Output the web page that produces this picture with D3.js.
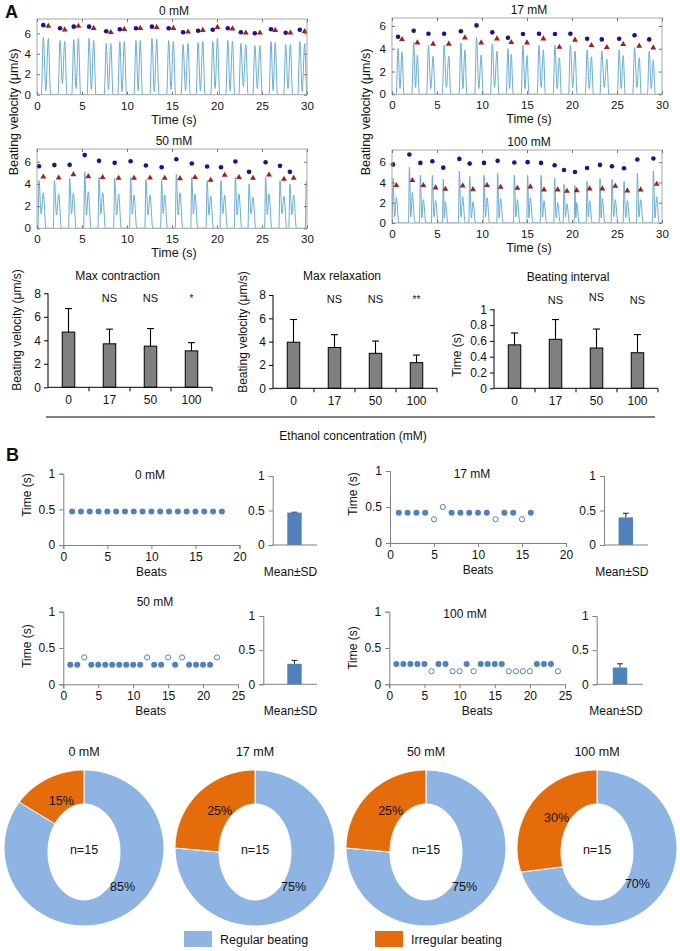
<!DOCTYPE html>
<html><head><meta charset="utf-8">
<script src="https://cdn.jsdelivr.net/npm/d3@7"></script>
<style>body{margin:0;background:#fff}text{font-family:"Liberation Sans",Arial,Helvetica,sans-serif;fill:#111}</style>
</head><body><svg id="c" width="680" height="951"></svg>
<script>
// ================= DATA =================
// Panel A traces: x ticks / y ticks
const traceXTicks = [0,5,10,15,20,25,30];
const traceYTicks = [0,2,4,6];
// 0 mM
const t0_tC = [0.7,2.56,4.08,5.79,7.69,9.2,11.0,12.77,14.63,16.23,17.9,19.53,21.2,22.65,24.2,26.0,27.63,29.2];
const t0_tR = [1.26,3.08,4.6,6.3,8.2,9.7,11.47,13.3,15.15,16.78,18.42,20.05,21.72,23.2,24.77,26.47,28.15,29.74];
const t0_mC = [6.8,6.5,6.65,6.65,6.2,6.4,6.5,6.65,6.5,6.1,6.25,6.35,6.5,6.1,6.0,6.4,6.05,6.35];
const t0_mR = [6.7,6.35,6.7,6.5,6.1,6.4,6.5,6.6,6.5,6.15,6.3,6.6,6.45,6.05,6.05,6.3,6.05,6.2];
const t0_vC = [5.6,5.3,5.4,5.5,5.0,5.2,5.3,5.5,5.3,4.9,5.1,5.2,5.3,5.0,4.8,5.2,4.9,5.2];
const t0_vR = [5.5,5.2,5.5,5.3,5.0,5.2,5.3,5.4,5.2,5.0,5.2,5.5,5.2,4.9,4.8,5.1,4.9,5.0];
const t0_dip = [0.4,1.1,0.6,0.5,0.5,0.3,0.4,0.3,0.5,0.4,0.4,0.6,0.4,0.8,0.6,0.4,0.6,0.3];
// 17 mM
const t17_tC = [0.67,2.41,4.05,5.79,7.65,9.39,11.14,12.88,14.55,16.33,18.11,19.82,21.68,23.31,25.24,26.95,28.58];
const t17_tR = [1.11,2.82,4.57,6.31,8.1,9.91,11.66,13.25,15.0,16.82,18.6,20.34,22.16,23.87,25.69,27.47,29.03];
const t17_mC = [5.06,5.58,5.32,5.32,5.53,6.05,5.44,4.97,5.29,5.32,5.29,5.32,4.88,4.82,4.88,5.18,4.82];
const t17_mR = [4.82,4.53,4.42,4.42,4.97,4.53,4.88,4.56,4.53,4.88,4.15,4.77,4.3,4.12,4.39,4.24,4.09];
const t17_vC = [4.03,4.56,4.3,4.3,4.5,5.0,4.4,4.0,4.3,4.3,4.3,4.3,3.9,3.8,3.9,4.1,3.8];
const t17_vR = [3.74,3.45,3.35,3.35,3.9,3.45,3.8,3.5,3.4,3.9,3.2,3.8,3.3,3.1,3.4,3.2,3.0];
const t17_dip = [0.5,0.6,0.5,0.6,0.5,0.5,0.6,0.5,0.5,0.6,0.5,0.6,0.5,0.6,0.5,0.6,0.5];
// 50 mM (trace has one extra spike at the end)
const t50_tC = [0.22,1.93,3.63,5.3,6.89,8.63,10.4,12.1,13.85,15.48,17.2,18.9,20.44,22.04,23.56,25.4,27.0,28.1,29.92];
const t50_tR = [0.7,2.41,4.04,5.7,7.3,9.07,10.78,12.56,14.19,15.89,17.56,19.3,20.85,22.44,24.0,25.78,27.44,28.52,30.4];
const t50_mC = [5.6,5.7,5.72,6.6,6.08,5.9,6.05,5.66,5.5,6.23,5.84,5.57,5.5,6.02,5.09,5.96,5.63,5.09];
const t50_mR = [4.64,4.55,4.85,4.67,4.6,4.52,4.52,4.55,4.52,4.49,4.6,4.34,4.79,4.6,4.52,4.82,4.43,4.52];
const t50_vC = [4.3,4.3,4.5,5.1,4.6,4.5,4.6,4.4,4.3,4.9,4.6,4.3,4.3,4.6,4.0,4.6,4.3,4.0,4.2];
const t50_vR = [3.2,3.1,3.2,3.3,3.2,3.1,3.0,3.0,3.0,3.2,3.1,2.9,3.0,3.1,2.8,3.1,2.9,3.0,3.0];
const t50_dip = [1.3,1.2,1.3,1.2,1.3,1.2,1.3,1.2,1.3,1.2,1.3,1.2,1.3,1.2,1.3,1.2,1.3,1.2,1.3];
// 100 mM
const t100_tC = [0.11,1.93,3.15,4.48,5.7,7.48,8.63,10.22,11.74,13.59,15.07,16.56,18.07,19.11,20.33,21.67,23.11,24.44,25.78,27.26,29.04];
const t100_tR = [0.48,2.26,3.48,4.85,5.93,7.85,9.0,10.56,12.07,13.93,15.37,16.89,18.41,19.44,20.52,21.96,23.37,24.81,26.15,27.63,29.41];
const t100_mC = [5.76,6.75,5.93,6.09,5.46,6.32,5.86,5.93,6.13,5.96,6.0,5.93,5.7,5.23,5.03,5.43,5.73,5.6,5.4,6.26,6.36];
const t100_mR = [3.71,4.2,3.71,3.48,3.34,3.68,3.31,3.71,3.54,3.44,3.58,3.28,3.28,3.15,3.21,3.38,3.38,3.64,3.18,3.28,3.84];
const t100_vC = [4.4,5.5,4.7,4.7,4.3,5.1,4.6,4.7,4.9,4.7,4.7,4.7,4.4,3.8,3.7,4.1,4.4,4.3,4.1,4.9,5.1];
const t100_vR = [2.5,3.0,2.3,2.2,2.1,2.6,2.1,2.5,2.4,2.3,2.5,2.2,2.0,1.9,2.0,2.2,2.4,2.3,2.2,2.3,2.6];
const t100_dip = [0.6,0.6,0.5,0.6,0.5,0.6,0.5,0.6,0.5,0.6,0.5,0.6,0.5,0.6,0.5,0.6,0.5,0.6,0.5,0.6,0.5];

// Panel A bar charts
const concCats = ["0","17","50","100"];
const contrMean = [4.7,3.7,3.5,3.1];
const contrErrTop = [6.7,4.95,5.0,3.8];
const contrSig = ["","NS","NS","*"];
const relaxMean = [3.95,3.5,3.0,2.2];
const relaxErrTop = [5.9,4.6,4.05,2.85];
const relaxSig = ["","NS","NS","**"];
const intMean = [0.55,0.62,0.51,0.45];
const intErrTop = [0.70,0.87,0.75,0.68];
const intSig = ["","NS","NS","NS"];
const velTicks = [0,2,4,6,8];
const intTicks = [0,0.2,0.4,0.6,0.8,1];

// Panel B scatter (beat intervals) ; open = irregular beat
const b0_vals = [0.47,0.47,0.47,0.47,0.47,0.47,0.47,0.47,0.47,0.47,0.47,0.47,0.47,0.47,0.47,0.47,0.47,0.47];
const b0_open = [0,0,0,0,0,0,0,0,0,0,0,0,0,0,0,0,0,0];
const b17_vals = [0.42,0.42,0.42,0.42,0.33,0.50,0.42,0.42,0.42,0.42,0.42,0.33,0.42,0.42,0.33,0.42];
const b17_open = [0,0,0,0,1,1,0,0,0,0,0,1,0,0,1,0];
const b50_vals = [0.27,0.27,0.37,0.27,0.27,0.27,0.27,0.27,0.27,0.27,0.27,0.37,0.27,0.27,0.37,0.27,0.37,0.27,0.27,0.27,0.27,0.37];
const b50_open = [0,0,1,0,0,0,0,0,0,0,0,1,0,0,1,0,1,0,0,0,0,1];
const b100_vals = [0.28,0.28,0.28,0.28,0.28,0.18,0.28,0.28,0.18,0.18,0.28,0.18,0.28,0.28,0.28,0.28,0.18,0.18,0.18,0.18,0.28,0.28,0.28,0.18];
const b100_open = [0,0,0,0,0,1,0,0,1,1,0,1,0,0,0,0,1,1,1,1,0,0,0,1];
const beatTicks20 = [0,5,10,15,20];
const beatTicks25 = [0,5,10,15,20,25];
const timeTicks = [0,0.5,1];
const meanVals = [0.47,0.40,0.30,0.245];
const meanErrTop = [0.475,0.46,0.35,0.30];

// Donuts
const donutTitles = ["0 mM","17 mM","50 mM","100 mM"];
const regularPct = [85,75,75,70];
const irregularPct = [15,25,25,30];
const donutN = ["n=15","n=15","n=15","n=15"];
const legendLabels = ["Regular beating","Irregular beating"];

// ================= DRAW =================
const svg = d3.select("#c");
const C_TRACE = "#67acd8", C_CIRC = "#1e0f9e", C_TRI = "#a51d1d";
const C_BLUE = "#4f81bd", C_REG = "#8db4e2", C_IRR = "#e46c0a";

function txt(x,y,s,opt={}){
  const t = svg.append("text").attr("x",x).attr("y",y).text(s)
    .attr("font-size",opt.size||12).attr("text-anchor",opt.anchor||"middle");
  if(opt.weight) t.attr("font-weight",opt.weight);
  if(opt.rot){ t.attr("transform",`rotate(-90,${x},${y})`).attr("dy","0.35em"); }
  return t;
}
function styleAxis(g,color,fs){
  g.selectAll("path.domain").remove();
  g.selectAll("line").attr("stroke",color);
  g.selectAll("text").attr("font-size",fs).attr("fill","#111")
   .style("font-family",'"Liberation Sans",Arial,sans-serif');
}

// ---- Trace panels ----
function drawTrace(p,d){
  const x = d3.scaleLinear().domain([0,30]).range([p.x0,p.x1]);
  const y = d3.scaleLinear().domain([0,p.yMax]).range([p.yB,p.yT]);
  const cid = "clip"+p.key;
  svg.append("clipPath").attr("id",cid).append("rect")
    .attr("x",p.x0).attr("y",p.yT-1).attr("width",p.x1-p.x0).attr("height",p.yB-p.yT+1);
  const pts=[[0,0]];
  d.tC.forEach((t,i)=>{
    pts.push([t-d.rise,0],[t,d.vC[i]],[(t+d.tR[i])/2,d.dip[i]],[d.tR[i],d.vR[i]],[d.tR[i]+d.fall,0]);
  });
  if(pts[pts.length-1][0]<30) pts.push([30,0]);
  const g = svg.append("g");
  g.append("path").datum(pts).attr("clip-path",`url(#${cid})`)
    .attr("fill","none").attr("stroke",C_TRACE).attr("stroke-width",1)
    .attr("d",d3.line().x(v=>x(v[0])).y(v=>y(v[1])).curve(d3.curveMonotoneX));
  // markers
  g.selectAll(null).data(d.mC).join("circle")
    .attr("cx",(v,i)=>x(d.tC[i])).attr("cy",v=>y(v)).attr("r",2.3).attr("fill",C_CIRC);
  g.selectAll(null).data(d.mR).join("path")
    .attr("transform",(v,i)=>`translate(${x(d.tR[i])},${y(v)})`)
    .attr("d",d3.symbol(d3.symbolTriangle,15)()).attr("fill",C_TRI);
  // box
  g.append("rect").attr("x",p.x0).attr("y",p.yT).attr("width",p.x1-p.x0).attr("height",p.yB-p.yT)
    .attr("fill","none").attr("stroke","#a8a8a8").attr("stroke-width",1);
  const ax = g.append("g").attr("transform",`translate(0,${p.yB})`)
    .call(d3.axisBottom(x).tickValues(traceXTicks).tickSize(-3).tickPadding(7).tickFormat(d3.format("d")));
  styleAxis(ax,"#777",11.5);
  const ay = g.append("g").attr("transform",`translate(${p.x0},0)`)
    .call(d3.axisLeft(y).tickValues(traceYTicks).tickSize(-3).tickPadding(6).tickFormat(d3.format("d")));
  styleAxis(ay,"#777",11.5);
  const at = g.append("g").attr("transform",`translate(0,${p.yT})`)
    .call(d3.axisTop(x).tickValues(traceXTicks).tickSize(-3).tickFormat(""));
  styleAxis(at,"#777",11);
  const ar = g.append("g").attr("transform",`translate(${p.x1},0)`)
    .call(d3.axisRight(y).tickValues(traceYTicks).tickSize(-3).tickFormat(""));
  styleAxis(ar,"#777",11);
  txt((p.x0+p.x1)/2+2,p.yT-4,p.title,{size:12});
  txt((p.x0+p.x1)/2+2,p.yB+29,"Time (s)",{size:12.5});
}
drawTrace({key:"a0",x0:37,x1:307,yT:19,yB:94.7,yMax:7.4,title:"0 mM"},
  {tC:t0_tC,tR:t0_tR,mC:t0_mC,mR:t0_mR,vC:t0_vC,vR:t0_vR,dip:t0_dip,rise:0.22,fall:0.25});
drawTrace({key:"a17",x0:392,x1:662,yT:18,yB:94.3,yMax:6.7,title:"17 mM"},
  {tC:t17_tC,tR:t17_tR,mC:t17_mC,mR:t17_mR,vC:t17_vC,vR:t17_vR,dip:t17_dip,rise:0.2,fall:0.22});
drawTrace({key:"a50",x0:37,x1:307,yT:149,yB:228.3,yMax:7.15,title:"50 mM"},
  {tC:t50_tC,tR:t50_tR,mC:t50_mC,mR:t50_mR,vC:t50_vC,vR:t50_vR,dip:t50_dip,rise:0.12,fall:0.3});
drawTrace({key:"a100",x0:392,x1:662,yT:150,yB:223,yMax:7.2,title:"100 mM"},
  {tC:t100_tC,tR:t100_tR,mC:t100_mC,mR:t100_mR,vC:t100_vC,vR:t100_vR,dip:t100_dip,rise:0.1,fall:0.28});
txt(14,112,"Beating velocity (μm/s)",{size:12.5,rot:true});
txt(366,112,"Beating velocity (μm/s)",{size:12.5,rot:true});
txt(5,18,"A",{size:18,weight:"bold",anchor:"start"});

// ---- Bar charts ----
function drawBars(p,mean,errTop,sig){
  const x = d3.scaleBand().domain(concCats).range([p.x0,p.x1]);
  const y = d3.scaleLinear().domain([0,p.max]).range([p.yB,p.yT]);
  const g = svg.append("g");
  const bw = 12.5;
  g.selectAll(null).data(mean).join("line")
    .attr("x1",(v,i)=>x(concCats[i])+x.bandwidth()/2).attr("x2",(v,i)=>x(concCats[i])+x.bandwidth()/2)
    .attr("y1",v=>y(v)).attr("y2",(v,i)=>y(errTop[i])).attr("stroke","#000").attr("stroke-width",1.1);
  g.selectAll(null).data(errTop).join("line")
    .attr("x1",(v,i)=>x(concCats[i])+x.bandwidth()/2-3.5).attr("x2",(v,i)=>x(concCats[i])+x.bandwidth()/2+3.5)
    .attr("y1",v=>y(v)).attr("y2",v=>y(v)).attr("stroke","#000").attr("stroke-width",1.1);
  g.selectAll(null).data(mean).join("rect")
    .attr("x",(v,i)=>x(concCats[i])+x.bandwidth()/2-bw/2).attr("width",bw)
    .attr("y",v=>y(v)).attr("height",v=>p.yB-y(v))
    .attr("fill","#808080").attr("stroke","#000").attr("stroke-width",1);
  const ay = g.append("g").attr("transform",`translate(${p.x0},0)`)
    .call(d3.axisLeft(y).tickValues(p.ticks).tickSize(4).tickPadding(3).tickFormat(d=>String(d)));
  ay.select("path.domain").remove();
  ay.selectAll("line").attr("stroke","#000");
  ay.selectAll("text").attr("font-size",12).attr("fill","#111");
  g.append("line").attr("x1",p.x0).attr("x2",p.x0).attr("y1",p.yT).attr("y2",p.yB).attr("stroke","#000");
  g.append("line").attr("x1",p.x0).attr("x2",p.x1).attr("y1",p.yB).attr("y2",p.yB).attr("stroke","#000");
  g.selectAll(null).data(concCats).join("line")
    .attr("x1",c=>x(c)+x.bandwidth()).attr("x2",c=>x(c)+x.bandwidth())
    .attr("y1",p.yB).attr("y2",p.yB+4).attr("stroke","#000");
  g.selectAll(null).data(concCats).join("text")
    .attr("x",c=>x(c)+x.bandwidth()/2).attr("y",p.yB+17).attr("text-anchor","middle")
    .attr("font-size",12).text(c=>c);
  g.selectAll(null).data(sig).join("text")
    .attr("x",(s,i)=>x(concCats[i])+x.bandwidth()/2).attr("y",(s,i)=>p.sigY+(p.sigDy?p.sigDy[i]:0))
    .attr("text-anchor","middle").attr("font-size",s=>s.startsWith("*")?10:11).text(s=>s);
  txt(p.titleX,p.titleY,p.title,{size:12});
  txt(p.ylx,p.yly,p.ylabel,{size:12,rot:true});
}
drawBars({x0:48,x1:212,yB:387.3,yT:293.3,max:8,ticks:velTicks,title:"Max contraction",titleX:117.5,titleY:280,
  ylabel:"Beating velocity (μm/s)",ylx:17,yly:330,sigY:302},contrMean,contrErrTop,contrSig);
drawBars({x0:273,x1:437,yB:388.3,yT:295,max:8,ticks:velTicks,title:"Max relaxation",titleX:342,titleY:280,
  ylabel:"Beating velocity (μm/s)",ylx:243,yly:332,sigY:303},relaxMean,relaxErrTop,relaxSig);
drawBars({x0:494,x1:658,yB:388.3,yT:309.3,max:1,ticks:intTicks,title:"Beating interval",titleX:568,titleY:281,
  ylabel:"Time (s)",ylx:457,yly:355,sigY:303.5,sigDy:[0,0,-2.6,0]},intMean,intErrTop,intSig);
svg.append("line").attr("x1",46).attr("x2",655).attr("y1",417).attr("y2",417).attr("stroke","#000").attr("stroke-width",1.2);
txt(353,440,"Ethanol concentration (mM)",{size:12});

// ---- Panel B scatter + mean bars ----
txt(6,461,"B",{size:18,weight:"bold",anchor:"start"});
function drawScatter(p,vals,open,ticks){
  const x = d3.scaleLinear().domain([0,ticks[ticks.length-1]]).range([p.ax,p.xEnd]);
  const y = d3.scaleLinear().domain([0,1]).range([p.y0,p.y1]);
  const g = svg.append("g");
  const ax = g.append("g").attr("transform",`translate(0,${p.y0})`)
    .call(d3.axisBottom(x).tickValues(ticks).tickSize(4).tickPadding(3));
  ax.select("path.domain").attr("stroke","#7f7f7f");
  ax.selectAll("line").attr("stroke","#7f7f7f");
  ax.selectAll("text").attr("font-size",12).attr("fill","#111");
  const ay = g.append("g").attr("transform",`translate(${p.ax},0)`)
    .call(d3.axisLeft(y).tickValues(timeTicks).tickSize(4).tickPadding(4).tickFormat(d=>String(d)));
  ay.select("path.domain").attr("stroke","#7f7f7f");
  ay.selectAll("line").attr("stroke","#7f7f7f");
  ay.selectAll("text").attr("font-size",12).attr("fill","#111");
  g.selectAll(null).data(vals).join("circle")
    .attr("cx",(v,i)=>x(i+1)).attr("cy",v=>y(v)).attr("r",(v,i)=>open[i]?2.6:3)
    .attr("fill",(v,i)=>open[i]?"#fff":C_BLUE).attr("stroke",C_BLUE).attr("stroke-width",(v,i)=>open[i]?1:0);
  txt(p.tx,p.ty,p.title,{size:12});
  txt((p.ax+p.xEnd)/2,p.y0+31,"Beats",{size:12});
  txt(p.ylx,p.yly,"Time (s)",{size:12,rot:true});
}
function drawMean(p,m,e){
  const y = d3.scaleLinear().domain([0,1]).range([p.y0,p.y1]);
  const g = svg.append("g");
  g.append("line").attr("x1",p.bx).attr("x2",p.bx).attr("y1",y(m)).attr("y2",y(e)).attr("stroke","#222");
  g.append("line").attr("x1",p.bx-3).attr("x2",p.bx+3).attr("y1",y(e)).attr("y2",y(e)).attr("stroke","#222");
  g.append("rect").attr("x",p.bx-7.2).attr("width",14.4).attr("y",y(m)).attr("height",p.y0-y(m)).attr("fill",C_BLUE);
  const ay = g.append("g").attr("transform",`translate(${p.ax},0)`)
    .call(d3.axisLeft(y).tickValues(timeTicks).tickSize(4).tickPadding(4).tickFormat(d=>String(d)));
  ay.select("path.domain").attr("stroke","#7f7f7f");
  ay.selectAll("line").attr("stroke","#7f7f7f");
  ay.selectAll("text").attr("font-size",12).attr("fill","#111");
  g.append("line").attr("x1",p.ax).attr("x2",p.xEnd).attr("y1",p.y0).attr("y2",p.y0).attr("stroke","#7f7f7f");
  txt(p.bx-4,p.y0+31,"Mean±SD",{size:12});
}
drawScatter({ax:63.3,xEnd:239.5,y0:545,y1:473.7,title:"0 mM",tx:150,ty:479,ylx:27,yly:495},b0_vals,b0_open,beatTicks20);
drawScatter({ax:390,xEnd:566,y0:543,y1:471,title:"17 mM",tx:472,ty:477.5,ylx:353,yly:494},b17_vals,b17_open,beatTicks20);
drawScatter({ax:63.3,xEnd:238,y0:684.3,y1:611.7,title:"50 mM",tx:155,ty:606,ylx:27,yly:646},b50_vals,b50_open,beatTicks25);
drawScatter({ax:389.3,xEnd:565,y0:684.3,y1:611.7,title:"100 mM",tx:465,ty:617.5,ylx:353,yly:648},b100_vals,b100_open,beatTicks25);
drawMean({ax:272.7,xEnd:317,y0:545,y1:476,bx:294.5},meanVals[0],meanErrTop[0]);
drawMean({ax:604,xEnd:648,y0:545,y1:476,bx:625.8},meanVals[1],meanErrTop[1]);
drawMean({ax:263.3,xEnd:317,y0:684.3,y1:616,bx:294.5},meanVals[2],meanErrTop[2]);
drawMean({ax:596.7,xEnd:643,y0:684.3,y1:616,bx:620},meanVals[3],meanErrTop[3]);

// ---- Donuts ----
const donutCx = [84,255,426,597];
const donutCy = 848, oRx = 80, oRy = 78, iRx = 36, iRy = 48, iDy = 4;
function ellipsePt(cx,cy,rx,ry,a){ return [cx+rx*Math.sin(a), cy-ry*Math.cos(a)]; }
donutCx.forEach((cx,k)=>{
  const arcs = d3.pie().sort(null)([regularPct[k],irregularPct[k]]);
  const g = svg.append("g");
  arcs.forEach((a,j)=>{
    const n = 80, pts=[];
    for(let s=0;s<=n;s++){ pts.push(ellipsePt(cx,donutCy,oRx,oRy,a.startAngle+(a.endAngle-a.startAngle)*s/n)); }
    for(let s=n;s>=0;s--){ pts.push(ellipsePt(cx,donutCy+iDy,iRx,iRy,a.startAngle+(a.endAngle-a.startAngle)*s/n)); }
    g.append("path").attr("d",d3.line()(pts)+"Z").attr("fill",j===0?C_REG:C_IRR)
      .attr("stroke","#fff").attr("stroke-width",1);
    const mid = (a.startAngle+a.endAngle)/2;
    const la = j===0 ? Math.min(mid,0.72*Math.PI) : mid;
    const lp = ellipsePt(cx,donutCy+2,50,56,la);
    txt(lp[0],lp[1]+5,(j===0?regularPct[k]:irregularPct[k])+"%",{size:12.5});
  });
  txt(cx,donutCy+6,donutN[k],{size:12.5});
  txt(cx,donutCy-92,donutTitles[k],{size:12.5});
});
// legend
const legX = [184,375];
legendLabels.forEach((l,i)=>{
  svg.append("rect").attr("x",legX[i]).attr("y",931).attr("width",28).attr("height",16).attr("fill",i===0?C_REG:C_IRR);
  txt(legX[i]+36,944,l,{size:12.5,anchor:"start"});
});
</script></body></html>
